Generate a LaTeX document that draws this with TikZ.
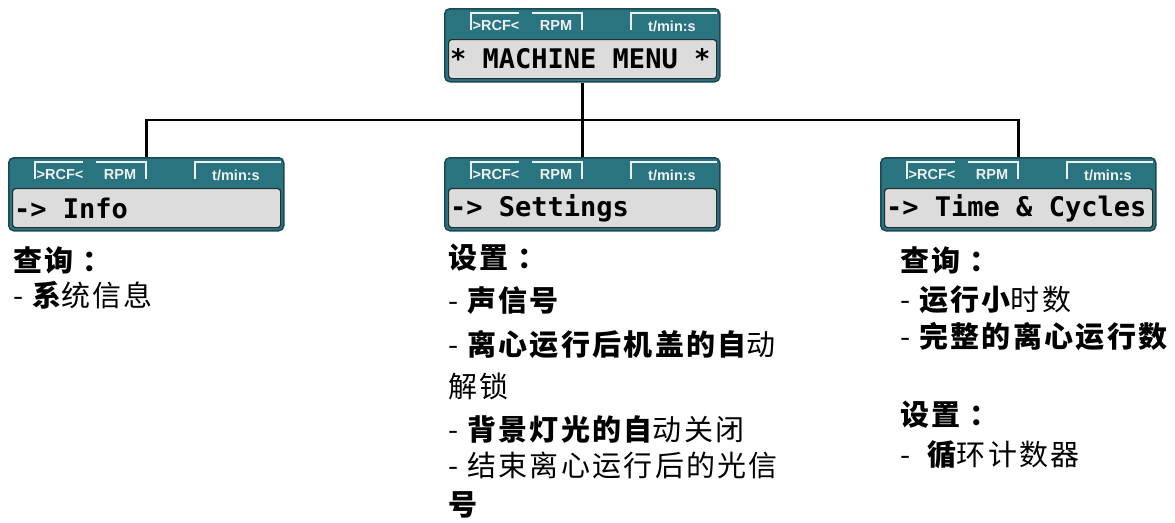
\documentclass[tikz,border=0pt]{standalone}
\usepackage{fontspec}
\setmainfont{Liberation Sans}
\newfontfamily\cjk{Noto Sans CJK SC}[LetterSpace=8.0]
\newfontfamily\lcdfont{DejaVu Sans Mono}
\usepackage{xcolor}
\usepackage{tikz}
\usetikzlibrary{
    arrows.meta,
    positioning,
    calc
}

\definecolor{panelteal}{RGB}{42,116,128}
\definecolor{paneledge}{RGB}{28,72,82}
\definecolor{lcdgray}{RGB}{220,220,220}
\definecolor{lcdedge}{RGB}{35,45,50}
\definecolor{tabwhite}{RGB}{236,242,243}

\newcommand{\B}[1]{{\bfseries #1}}
\newcommand{\colonsep}{\hspace{9pt}：}

% display panel: name, top-left corner, display text
\newcommand{\lcdpanel}[3]{%
    \node[panel, anchor=north west] (#1) at #2 {};
    \begin{scope}[shift={(#1.north west)}]
        \draw[tabline] (27,22) |- (75,5);
        \draw[tabline] (88,5) -| (138,22);
        \draw[tabline] (187,22) |- (273,5);
        \node[tabtext] at (52,18) {>RCF<};
        \node[tabtext] at (112,18) {RPM};
        \node[tabtext] at (228,18) {t/min:s};
        \node[lcd, anchor=north west] (#1-lcd) at (4,31) {};
        \node[lcdtext, anchor=west] at (#1-lcd.west) {#3};
    \end{scope}
}

\begin{document}
\begin{tikzpicture}[
    x=1pt, y=-1pt,
    panel/.style={draw=paneledge, line width=1.5pt, fill=panelteal,
        rounded corners=5pt, minimum width=275pt, minimum height=73pt,
        inner sep=0pt},
    lcd/.style={draw=lcdedge, line width=1.2pt, fill=lcdgray,
        rounded corners=3pt, minimum width=268pt, minimum height=39pt,
        inner sep=0pt},
    tabline/.style={draw=tabwhite, line width=1.8pt},
    tabtext/.style={text=tabwhite, inner sep=0pt,
        font=\fontsize{14.5}{14.5}\selectfont\bfseries},
    lcdtext/.style={inner sep=0pt, xshift=2pt,
        font=\lcdfont\bfseries\fontsize{27}{27}\selectfont},
    conn/.style={line width=2.5pt, draw=black},
    zh/.style={anchor=west, inner sep=0pt,
        font=\cjk\fontsize{29}{29}\selectfont}
]

\useasboundingbox (0,0) rectangle (1175,522);

\lcdpanel{top}{(444,8)}{* MACHINE MENU *}
\lcdpanel{info}{(8,157)}{-> Info}
\lcdpanel{settings}{(444,157)}{-> Settings}
\lcdpanel{cycles}{(880,157)}{-> Time \& Cycles}

\coordinate (split) at ($(top.south)!0.5!(settings.north)$);
\draw[conn] (top.south) -- (settings.north);
\draw[conn] (info.north) |- (split) -| (cycles.north);

% info
\node[zh] (infohead) at (13,260) {\B{查询\colonsep}};
\node[zh] (info1) at (13,295) {- \B{系}统信息};

% settings
\node[zh] (sethead) at (448,258) {\B{设置\colonsep}};
\node[zh] (set1) at (448,300) {- \B{声信号}};
\node[zh] (set2) at (448,345) {- \B{离心运行后机盖的自}动};
\node[zh] (set2b) at (448,386) {解锁};
\node[zh] (set3) at (448,429) {- \B{背景灯光的自}动关闭};
\node[zh] (set4) at (448,465) {- 结束离心运行后的光信};
\node[zh] (set4b) at (448,505) {\B{号}};

% time and cycles
\node[zh] (cychead) at (900,260) {\B{查询\colonsep}};
\node[zh] (cyc1) at (900,300) {- \B{运行小}时数};
\node[zh] (cyc2) at (900,337) {- \B{完整的离心运行数}};
\node[zh] (cychead2) at (900,415) {\B{设置\colonsep}};
\node[zh] (cyc3) at (900,455) {-~ \B{循}环计数器};

\end{tikzpicture}
\end{document}
